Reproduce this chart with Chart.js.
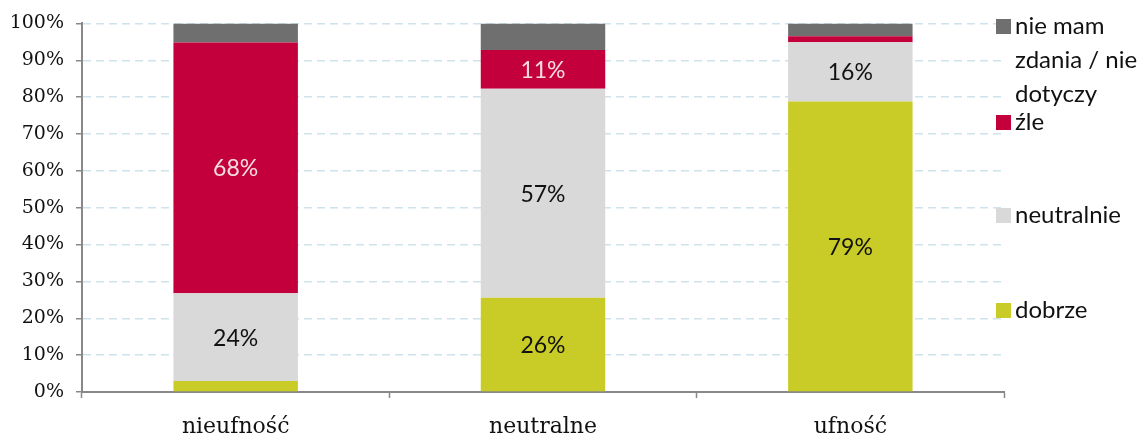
<!DOCTYPE html>
<html>
<head>
<meta charset="utf-8">
<script src="https://cdn.jsdelivr.net/npm/chart.js@4"></script>
<style>
  body { margin: 0; background: #fff; }
  #wrap { width: 1144px; height: 436px; position: relative; }
</style>
</head>
<body>
<div id="wrap"><canvas id="chart"></canvas></div>
<script>
const categories = ['nieufność', 'neutralne', 'ufność'];
const dobrze = [3.0, 25.6, 78.8];
const neutralnie = [23.8, 56.7, 16.1];
const zle = [68.0, 10.5, 1.6];
const nieMam = [5.2, 7.2, 3.5];
const seriesNames = ['dobrze', 'neutralnie', 'źle', 'nie mam zdania / nie dotyczy'];
const legendLines = [['nie mam', 'zdania / nie', 'dotyczy'], ['źle'], ['neutralnie'], ['dobrze']];
const yTicks = [0, 10, 20, 30, 40, 50, 60, 70, 80, 90, 100];

const colors = ['#c9cc26', '#d9d9d9', '#c4003c', '#6f6f6f'];
const labelColors = ['#111', '#111', '#f4dde2', '#fff'];

const segLabels = {
    id: 'segLabels',
    afterDatasetsDraw(chart) {
        const ctx = chart.ctx;
        ctx.save();
        ctx.font = '23px Lato, sans-serif';
        ctx.textAlign = 'center';
        ctx.textBaseline = 'middle';
        chart.data.datasets.forEach((ds, i) => {
            const meta = chart.getDatasetMeta(i);
            meta.data.forEach((bar, j) => {
                const v = ds.data[j];
                if (v < 10) return;
                const p = bar.getProps(['x', 'y', 'base'], true);
                ctx.fillStyle = labelColors[i];
                ctx.fillText(Math.round(v) + '%', p.x, (p.y + p.base) / 2 + 1);
            });
        });
        ctx.restore();
    }
};

const sideLegend = {
    id: 'sideLegend',
    afterDraw(chart) {
        const ctx = chart.ctx;
        const tops = [26, 122, 215, 310];
        ctx.save();
        ctx.font = '24px Lato, sans-serif';
        ctx.textBaseline = 'middle';
        ctx.textAlign = 'left';
        legendLines.forEach((lines, k) => {
            const di = 3 - k;
            ctx.fillStyle = colors[di];
            ctx.fillRect(996, tops[k] - 7, 15, 15);
            ctx.fillStyle = '#111';
            lines.forEach((t, n) => ctx.fillText(t, 1015, tops[k] + n * 34));
        });
        ctx.restore();
    }
};

const seriesData = [dobrze, neutralnie, zle, nieMam];

new Chart(document.getElementById('chart'), {
    type: 'bar',
    data: {
        labels: categories,
        datasets: seriesData.map((d, i) => ({
            label: seriesNames[i],
            data: d,
            backgroundColor: colors[i],
            barPercentage: 0.405,
            categoryPercentage: 1
        }))
    },
    options: {
        responsive: true,
        maintainAspectRatio: false,
        animation: false,
        layout: { padding: { left: 0, right: 140, top: 15, bottom: 0 } },
        plugins: {
            legend: { display: false },
            tooltip: { enabled: false }
        },
        scales: {
            x: {
                stacked: true,
                offset: true,
                grid: { display: true, offset: true, drawOnChartArea: false, tickLength: 6, tickColor: '#888', tickWidth: 1.5 },
                border: { color: '#888', width: 2 },
                ticks: { color: '#111', padding: 16, font: { family: '"DejaVu Serif", serif', size: 22 } },
                afterFit: s => { s.height = 44; }
            },
            y: {
                stacked: true,
                min: 0,
                max: 100,
                afterBuildTicks: s => { s.ticks = yTicks.map(v => ({ value: v })); },
                grid: { color: '#cfe3ec', lineWidth: 1.5, tickColor: '#888', tickLength: 6, tickWidth: 1.5 },
                border: { color: '#888', width: 2, dash: [8, 5] },
                ticks: {
                    color: '#111',
                    padding: 12,
                    font: { family: '"DejaVu Serif", serif', size: 19 },
                    callback: v => v + '%'
                },
                afterFit: s => { s.width = 82; }
            }
        }
    },
    plugins: [segLabels, sideLegend]
});
</script>
</body>
</html>
